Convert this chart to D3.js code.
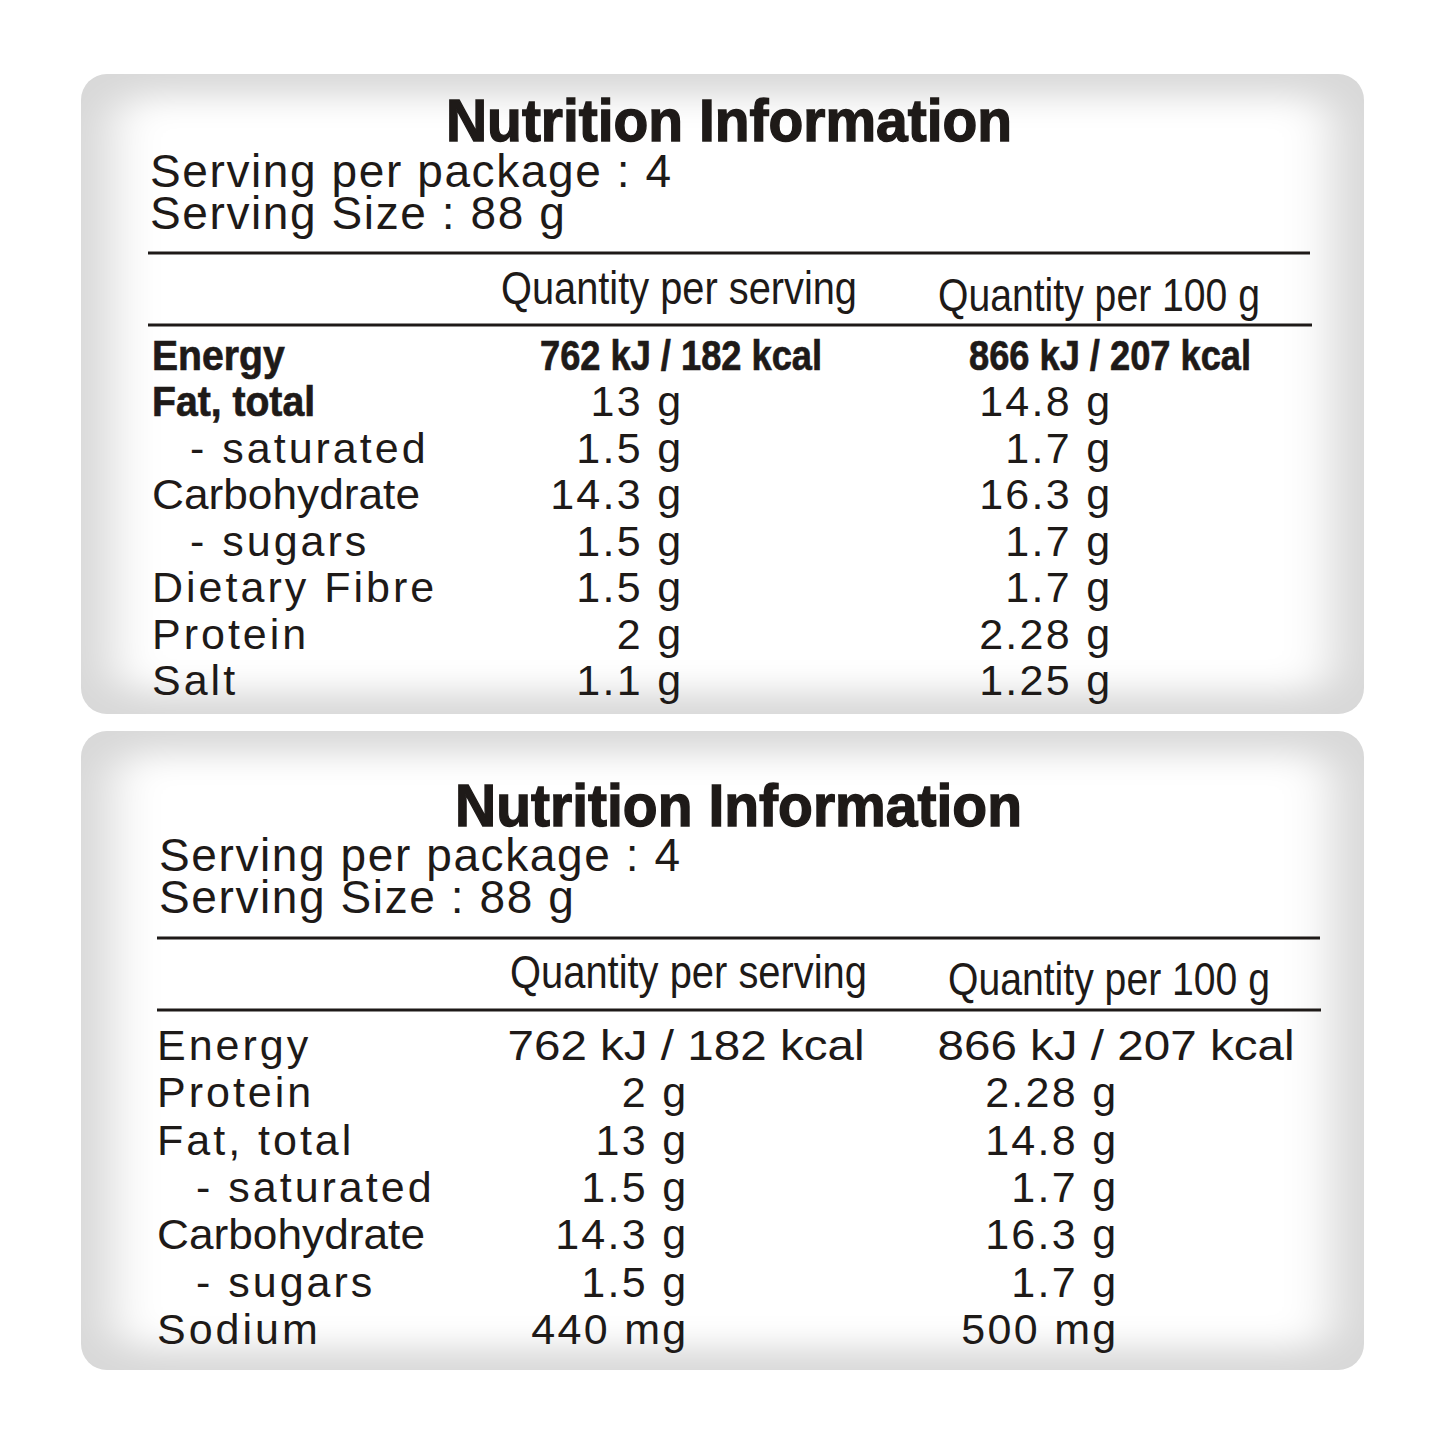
<!DOCTYPE html>
<html>
<head>
<meta charset="utf-8">
<script src="https://cdn.jsdelivr.net/npm/d3@7"></script>
<style>
  html, body { margin: 0; padding: 0; background: #ffffff; }
  svg { display: block; }
</style>
</head>
<body>
<svg id="chart" width="1445" height="1445"></svg>
<script>
// ---------------- DATA ----------------
const titleText = "Nutrition Information";
const servingsPerPackage = "Serving per package : 4";
const servingSize = "Serving Size : 88 g";
const columnHeaders = ["Quantity per serving", "Quantity per 100 g"];

// Panel 1
const panel1Labels = ["Energy", "Fat, total", "- saturated", "Carbohydrate", "- sugars", "Dietary Fibre", "Protein", "Salt"];
const panel1PerServing = ["762 kJ / 182 kcal", "13 g", "1.5 g", "14.3 g", "1.5 g", "1.5 g", "2 g", "1.1 g"];
const panel1Per100g = ["866 kJ / 207 kcal", "14.8 g", "1.7 g", "16.3 g", "1.7 g", "1.7 g", "2.28 g", "1.25 g"];
const panel1BoldRows = ["Energy", "Fat, total"];

// Panel 2
const panel2Labels = ["Energy", "Protein", "Fat, total", "- saturated", "Carbohydrate", "- sugars", "Sodium"];
const panel2PerServing = ["762 kJ / 182 kcal", "2 g", "13 g", "1.5 g", "14.3 g", "1.5 g", "440 mg"];
const panel2Per100g = ["866 kJ / 207 kcal", "2.28 g", "14.8 g", "1.7 g", "16.3 g", "1.7 g", "500 mg"];
const panel2BoldRows = [];

// ---------------- LAYOUT / STYLE ----------------
const INK = "#1e1a18";
const FONT = "'Liberation Sans', Arial, Helvetica, sans-serif";
// labels set tighter in the original artwork
const condensedLabelWidth = {"Carbohydrate": 268};

const layouts = [
  {
    box: {x: 81, y: 74, w: 1283, h: 640},
    titleX: 729, titleY: 141, titleW: 566,
    servX: 150, serv1Y: 187, serv2Y: 229,
    rule1: {x1: 148, x2: 1310, y: 253}, rule2: {x1: 148, x2: 1312, y: 325},
    head1: {cx: 679, y: 304, w: 356}, head2: {cx: 1099, y: 311, w: 322},
    labelX: 152, indentX: 190, col1: 681, col2: 1110,
    rowFirst: 370, rowLast: 695,
    energyBoldW: 282
  },
  {
    box: {x: 81, y: 731, w: 1283, h: 639},
    titleX: 738.5, titleY: 826, titleW: 567,
    servX: 159, serv1Y: 871, serv2Y: 913,
    rule1: {x1: 157, x2: 1320, y: 938}, rule2: {x1: 157, x2: 1321, y: 1010},
    head1: {cx: 688.5, y: 988, w: 357}, head2: {cx: 1109, y: 995, w: 322},
    labelX: 157, indentX: 196, col1: 686, col2: 1116,
    rowFirst: 1060, rowLast: 1344,
    energyW: 357
  }
];

const panels = [
  {labels: panel1Labels, perServing: panel1PerServing, per100: panel1Per100g, bold: panel1BoldRows},
  {labels: panel2Labels, perServing: panel2PerServing, per100: panel2Per100g, bold: panel2BoldRows}
];

// ---------------- DRAW ----------------
const svg = d3.select("#chart");
const defs = svg.append("defs");
const blur = defs.append("filter").attr("id", "soft")
  .attr("x", "-20%").attr("y", "-20%").attr("width", "140%").attr("height", "140%");
blur.append("feGaussianBlur").attr("stdDeviation", "24 16");

panels.forEach((p, i) => {
  const L = layouts[i];
  const g = svg.append("g");
  const B = L.box;

  const clipId = "clip" + i;
  defs.append("clipPath").attr("id", clipId)
    .append("rect")
    .attr("x", B.x).attr("y", B.y).attr("width", B.w).attr("height", B.h)
    .attr("rx", 26).attr("ry", 26);

  const bg = g.append("g").attr("clip-path", `url(#${clipId})`);
  bg.append("rect")
    .attr("x", B.x).attr("y", B.y).attr("width", B.w).attr("height", B.h)
    .attr("fill", "#d8d8d8");
  bg.append("rect")
    .attr("x", B.x + 32).attr("y", B.y + 22)
    .attr("width", B.w - 64).attr("height", B.h - 44)
    .attr("rx", 30).attr("ry", 30)
    .attr("fill", "#ffffff")
    .attr("filter", "url(#soft)");

  // Title
  g.append("text")
    .attr("x", L.titleX).attr("y", L.titleY)
    .attr("text-anchor", "middle")
    .attr("font-family", FONT).attr("font-weight", "bold")
    .attr("font-size", 60)
    .attr("textLength", L.titleW).attr("lengthAdjust", "spacingAndGlyphs")
    .attr("fill", INK).attr("stroke", INK).attr("stroke-width", 1.4)
    .text(titleText);

  // Serving lines
  [[servingsPerPackage, L.serv1Y], [servingSize, L.serv2Y]].forEach(([t, y]) => {
    g.append("text")
      .attr("x", L.servX).attr("y", y)
      .attr("font-family", FONT).attr("font-size", 46)
      .attr("letter-spacing", 1.6)
      .attr("fill", INK)
      .text(t);
  });

  // Rules
  [L.rule1, L.rule2].forEach(r => {
    g.append("line")
      .attr("x1", r.x1).attr("x2", r.x2).attr("y1", r.y).attr("y2", r.y)
      .attr("stroke", INK).attr("stroke-width", 3);
  });

  // Column headers (condensed)
  [L.head1, L.head2].forEach((h, k) => {
    g.append("text")
      .attr("x", h.cx).attr("y", h.y)
      .attr("text-anchor", "middle")
      .attr("font-family", FONT).attr("font-size", 46)
      .attr("textLength", h.w).attr("lengthAdjust", "spacingAndGlyphs")
      .attr("fill", INK)
      .text(columnHeaders[k]);
  });

  // Rows via point scale
  const y = d3.scalePoint()
    .domain(p.labels.map((d, j) => j))
    .range([L.rowFirst, L.rowLast]);

  const rows = g.selectAll("g.row")
    .data(p.labels.map((lab, j) => ({
      label: lab, s: p.perServing[j], h: p.per100[j], j,
      bold: p.bold.includes(lab), indent: lab.startsWith("- ")
    })))
    .join("g").attr("class", "row")
    .attr("transform", d => `translate(0,${y(d.j)})`);

  rows.each(function(d) {
    const r = d3.select(this);
    const lx = d.indent ? L.indentX : L.labelX;
    const lt = r.append("text")
      .attr("x", lx).attr("y", 0)
      .attr("font-family", FONT)
      .attr("fill", INK)
      .text(d.label);
    if (d.bold) {
      lt.attr("font-weight", "bold").attr("font-size", 43)
        .attr("stroke", INK).attr("stroke-width", 0.7)
        .attr("transform", `translate(${lx},0) scale(0.91,1) translate(${-lx},0)`);
    } else {
      lt.attr("font-size", 43).attr("letter-spacing", 3);
      if (condensedLabelWidth[d.label]) {
        lt.attr("letter-spacing", null)
          .attr("textLength", condensedLabelWidth[d.label])
          .attr("lengthAdjust", "spacingAndGlyphs");
      }
    }

    const isEnergy = d.label === "Energy";
    [[d.s, L.col1], [d.h, L.col2]].forEach(([val, cx]) => {
      const t = r.append("text")
        .attr("y", 0)
        .attr("font-family", FONT)
        .attr("fill", INK)
        .text(val);
      if (isEnergy) {
        t.attr("x", cx).attr("text-anchor", "middle");
        if (d.bold) {
          t.attr("font-weight", "bold").attr("font-size", 43)
            .attr("stroke", INK).attr("stroke-width", 0.7)
            .attr("textLength", L.energyBoldW).attr("lengthAdjust", "spacingAndGlyphs");
        } else {
          t.attr("font-size", 43)
            .attr("textLength", L.energyW).attr("lengthAdjust", "spacingAndGlyphs");
        }
      } else {
        t.attr("x", cx + 2.5).attr("text-anchor", "end")
          .attr("font-size", 43).attr("letter-spacing", 2.3);
      }
    });
  });
});
</script>
</body>
</html>
